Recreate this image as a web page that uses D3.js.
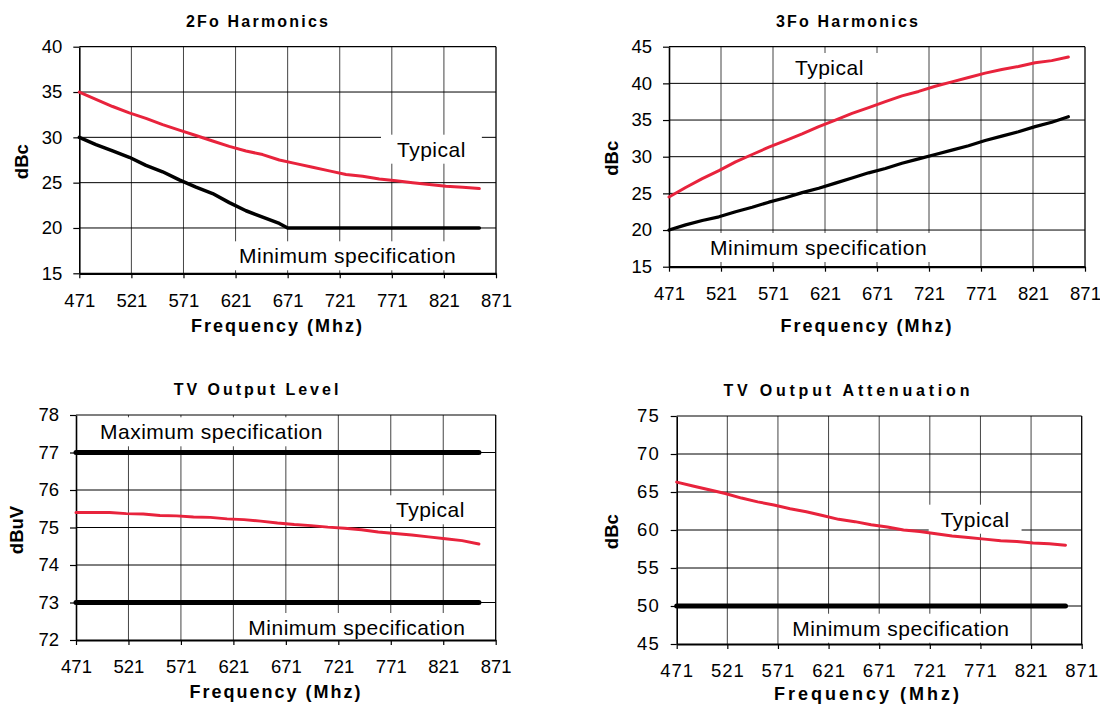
<!DOCTYPE html>
<html><head><meta charset="utf-8">
<script src="https://cdn.jsdelivr.net/npm/d3@7/dist/d3.min.js"></script>
<style>body{margin:0;background:#fff}svg{display:block}text{font-family:"Liberation Sans",Arial,sans-serif}</style>
</head><body><svg id="c" width="1100" height="704"></svg>
<script>
// ---- data ----
const xTicks = [471, 521, 571, 621, 671, 721, 771, 821, 871];
const freqTyp = [471,487,503,519,535,551,567,583,599,615,631,647,663,679,695,711,727,743,759,775,791,807,823,839,855];
const specEnds = [471, 855];

const h2Typical = [35.0,34.2,33.4,32.7,32.1,31.4,30.8,30.2,29.6,29.0,28.5,28.1,27.5,27.1,26.7,26.3,25.9,25.7,25.4,25.2,25.0,24.8,24.6,24.5,24.35];
const h2MinFreq = [471,487,503,519,535,551,567,583,599,615,631,647,663,671,855];
const h2Min = [30.0,29.2,28.5,27.8,26.9,26.2,25.3,24.5,23.8,22.8,21.9,21.2,20.5,20.0,20.0];
const h2YTicks = [15,20,25,30,35,40];

const h3Typical = [24.5,25.8,27.0,28.1,29.3,30.3,31.3,32.2,33.1,34.1,35.0,35.9,36.7,37.5,38.3,38.9,39.6,40.2,40.8,41.4,41.9,42.3,42.8,43.1,43.6];
const h3Min = [20.0,20.7,21.3,21.8,22.5,23.1,23.8,24.4,25.1,25.7,26.4,27.1,27.8,28.4,29.1,29.7,30.3,30.9,31.5,32.2,32.8,33.4,34.1,34.7,35.45];
const h3YTicks = [15,20,25,30,35,40,45];

const lvlTypical = [75.40,75.40,75.40,75.37,75.36,75.32,75.31,75.28,75.27,75.23,75.21,75.17,75.12,75.08,75.05,75.01,74.98,74.94,74.88,74.84,74.80,74.75,74.70,74.65,74.56];
const lvlMax = [77, 77];
const lvlMin = [73, 73];
const lvlYTicks = [72,73,74,75,76,77,78];

const attTypical = [66.3,65.8,65.3,64.8,64.2,63.7,63.3,62.8,62.4,61.9,61.4,61.1,60.7,60.4,60.0,59.8,59.5,59.2,59.0,58.8,58.6,58.5,58.3,58.2,58.0];
const attMin = [50, 50];
const attYTicks = [45,50,55,60,65,70,75];

const RED = "#e8233c";
const svg = d3.select("#c");

function panel(o){
  const x = d3.scaleLinear().domain([471,871]).range([o.x0,o.x1]);
  const y = d3.scaleLinear().domain([o.yTicks[0], o.yTicks[o.yTicks.length-1]]).range([o.y0,o.y1]);
  const g = svg.append("g");
  // grid
  g.selectAll(".vg").data(xTicks.slice(1,-1)).join("line")
    .attr("x1",d=>x(d)).attr("x2",d=>x(d)).attr("y1",o.y1).attr("y2",o.y0)
    .attr("stroke","#444").attr("stroke-width",1);
  g.selectAll(".hg").data(o.yTicks.slice(1,-1)).join("line")
    .attr("x1",o.x0).attr("x2",o.x1).attr("y1",d=>y(d)).attr("y2",d=>y(d))
    .attr("stroke","#000").attr("stroke-width",1);
  // labels with white boxes
  o.labels.forEach(l=>{
    const t = g.append("text").attr("x",l.x).attr("y",l.y).attr("font-size",21).attr("letter-spacing",0.5).text(l.t);
    const b = t.node().getBBox();
    g.insert("rect", function(){return t.node();})
      .attr("x",b.x-(l.px||15)).attr("y",b.y-3).attr("width",b.width+2*(l.px||15)).attr("height",b.height+6).attr("fill","#fff");
  });
  // border
  g.append("line").attr("x1",o.x0).attr("x2",o.x1).attr("y1",o.y1).attr("y2",o.y1).attr("stroke","#000").attr("stroke-width",1.2);
  g.append("line").attr("x1",o.x1).attr("x2",o.x1).attr("y1",o.y1).attr("y2",o.y0).attr("stroke","#000").attr("stroke-width",1.3);
  // axes
  const ax = d3.axisBottom(x).tickValues(xTicks).tickSize(5).tickSizeOuter(0).tickFormat(d3.format("d"));
  const gx = g.append("g").attr("transform",`translate(0,${o.y0})`).call(ax);
  gx.select(".domain").attr("stroke-width",2.2);
  gx.selectAll("text").attr("font-size",18.5).attr("dy",null).attr("y",o.xLabDy).attr("letter-spacing",o.tickLs||0);
  const ay = d3.axisLeft(y).tickValues(o.yTicks).tickSize(6).tickSizeOuter(0).tickPadding(11).tickFormat(d3.format("d"));
  const gy = g.append("g").attr("transform",`translate(${o.x0},0)`).call(ay);
  gy.select(".domain").attr("stroke-width",1.6);
  gy.selectAll("text").attr("font-size",18.5).attr("letter-spacing",o.tickLs||0);
  gy.selectAll(".tick line").attr("stroke-width",1.2);
  gx.selectAll(".tick line").attr("stroke-width",1.2);
  // lines
  const line = d3.line().x(d=>x(d[0])).y(d=>y(d[1]));
  o.series.forEach(s=>{
    g.append("path").datum(s.f.map((f,i)=>[f,s.v[i]]))
      .attr("d",line).attr("fill","none").attr("stroke",s.c).attr("stroke-width",s.w)
      .attr("stroke-linecap","round").attr("stroke-linejoin","round");
  });
  // titles
  g.append("text").attr("x",o.tx).attr("y",o.ty).attr("text-anchor","middle").attr("font-size",16).attr("font-weight","bold")
    .attr("letter-spacing",o.tls).text(o.title);
  g.append("text").attr("x",o.fx).attr("y",o.fy).attr("text-anchor","middle").attr("font-size",18).attr("font-weight","bold")
    .attr("letter-spacing",o.fls).text("Frequency (Mhz)");
  g.append("text").attr("transform",`translate(${o.yx},${o.yy}) rotate(-90)`).attr("text-anchor","middle")
    .attr("dy","0.35em").attr("font-size",18.5).attr("font-weight","bold").text(o.ytitle);
}

panel({x0:79.3,x1:496,y0:273.3,y1:46.7,yTicks:h2YTicks,xLabDy:33.4,
  series:[{f:h2MinFreq,v:h2Min,c:"#000",w:3.5},{f:freqTyp,v:h2Typical,c:RED,w:3}],
  labels:[{t:"Typical",x:397,y:156.7,px:16},{t:"Minimum specification",x:239,y:263.3,px:16}],
  title:"2Fo Harmonics",tx:258,ty:26.7,tls:2.2,fx:277.5,fy:331.7,fls:2,ytitle:"dBc",yx:22,yy:161.7});

panel({x0:669,x1:1085,y0:266.7,y1:46.7,yTicks:h3YTicks,xLabDy:33.4,
  series:[{f:freqTyp,v:h3Min,c:"#000",w:3.2},{f:freqTyp,v:h3Typical,c:RED,w:3}],
  labels:[{t:"Typical",x:795,y:75,px:16},{t:"Minimum specification",x:710,y:255,px:21}],
  title:"3Fo Harmonics",tx:848,ty:26.7,tls:2.2,fx:867,fy:331.7,fls:2,ytitle:"dBc",yx:611.7,yy:158.3});

panel({x0:76,x1:495.7,y0:640,y1:415,yTicks:lvlYTicks,xLabDy:33.4,
  series:[{f:specEnds,v:lvlMax,c:"#000",w:5},{f:specEnds,v:lvlMin,c:"#000",w:5},{f:freqTyp,v:lvlTypical,c:RED,w:3}],
  labels:[{t:"Maximum specification",x:100,y:439.3,px:8},{t:"Typical",x:396,y:517.3,px:12},{t:"Minimum specification",x:248.3,y:635,px:12}],
  title:"TV Output Level",tx:257.5,ty:395,tls:3,fx:276,fy:698,fls:2,ytitle:"dBuV",yx:16.7,yy:530});

panel({x0:676.7,x1:1081.7,y0:644,y1:416,yTicks:attYTicks,xLabDy:32.5,tickLs:1,
  series:[{f:specEnds,v:attMin,c:"#000",w:5},{f:freqTyp,v:attTypical,c:RED,w:3}],
  labels:[{t:"Typical",x:940.7,y:526.7,px:12},{t:"Minimum specification",x:792.3,y:635.7,px:12}],
  title:"TV Output Attenuation",tx:848.3,ty:396,tls:3.8,fx:868,fy:700,fls:3,ytitle:"dBc",yx:611.7,yy:531.7});
</script></body></html>
